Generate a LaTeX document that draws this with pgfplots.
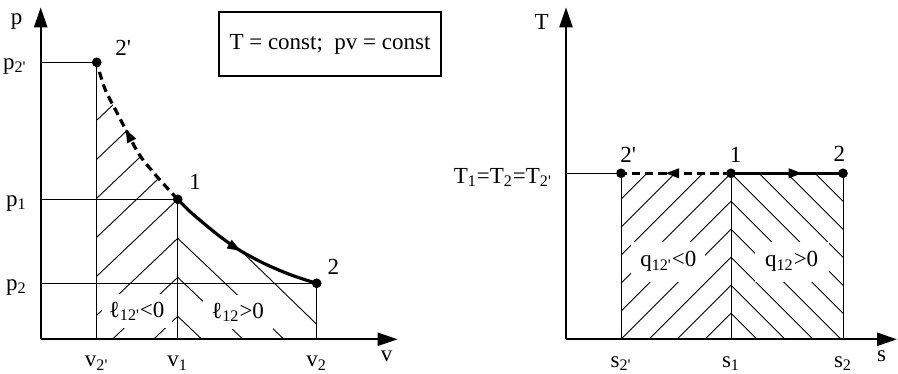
\documentclass[border=0pt]{standalone}
\usepackage{fontspec}
\setmainfont{Liberation Serif}[Ligatures=TeXOff]
\usepackage{pgfplots}
\pgfplotsset{compat=1.18}
\usetikzlibrary{arrows.meta,decorations.markings}

% one pixel of the reference = 0.5pt
\pgfplotsset{
  diagram/.style={
    x=0.5pt, y=0.5pt,
    axis lines=left,
    axis line style={line width=1.2pt},
    x axis line style={-{Triangle[length=10pt,width=6.5pt]}},
    y axis line style={-{Triangle[length=10pt,width=6.5pt]}},
    major tick length=0pt,
    clip=false,
    xmin=0, ymin=0,
    anchor=south west,
    xticklabel style={yshift=-4.5pt},
    yticklabel style={xshift=-3pt, yshift=-2pt},
    unbounded coords=jump,
  },
  thinln/.style={line width=0.5pt},
  hatch/.style={line width=0.45pt},
  process/.style={line width=1.6pt, smooth},
  midarrow/.style={postaction={decorate},
    decoration={markings, mark=at position #1 with
      {\arrow{Triangle[length=7pt,width=4.5pt]}}}},
  dot/.style={only marks, mark=*, mark size=2.2pt},
}
\tikzset{cut/.style={fill=white, inner sep=1pt}}

\begin{document}
\fontsize{11.5}{13.5}\selectfont
\begin{tikzpicture}
\useasboundingbox (0,0) rectangle (449pt,187pt);

% ---------------- p-v diagram ----------------
\begin{axis}[diagram, at={(20.35pt,17.35pt)},
  xmax=357, ymax=332,
  xtick={56,137,276},
  xticklabels={v\textsubscript{2'}, v\textsubscript{1}, v\textsubscript{2}},
  ytick={56,140,277},
  yticklabels={p\textsubscript{2}, p\textsubscript{1}, p\textsubscript{2'}}]

% hatching, "/" left of v1 and "\" right of v1
\addplot[hatch] coordinates {
  (112.8,0)(137,23) (0,nan)
  (71.7,0)(137,62) (0,nan)
  (56,24)(137,101) (0,nan)
  (56,63)(137,140) (0,nan)
  (56,102)(137,179) (0,nan)
  (56,141)(137,218) (0,nan)
  (56,180)(137,257) (0,nan)
  (56,219)(137,296) (0,nan)
  (147,140)(276,15) (0,nan)
  (137,101)(243.3,0) (0,nan)
  (137,62)(202.3,0) (0,nan)
  (137,23)(161.2,0)
};
% blank out the hatching above the isotherm
\addplot[fill=white, draw=none] coordinates {
  (56,277)(64,251)(75,229)(87,206)(99,184)(116,163)(137,140)
  (149,128)(163,116)(179,103)(199,89)(223,76)(246,66)(263,60)(276,56)
  (276,320)(56,320)
};

% state lines
\addplot[thinln] coordinates {
  (0,277)(56,277)(56,0) (0,nan)
  (0,140)(137,140)(137,0) (0,nan)
  (0,56)(276,56)(276,0)
};

% isotherm 1-2' (dashed) and 1-2
\addplot[process, dash pattern=on 4pt off 2.5pt, midarrow=0.55] coordinates {
  (137,140)(116,163)(99,184)(87,206)(75,229)(64,251)(56,277)
};
\addplot[process, midarrow=0.5] coordinates {
  (137,140)(149,128)(163,116)(179,103)(199,89)(223,76)(246,66)(263,60)(276,56)
};
\addplot[dot] coordinates {(56,277)(137,140)(276,56)};

\node at (82.6,291) {2'};
\node at (154.3,157.6) {1};
\node at (292.6,72.6) {2};
\node[cut, minimum width=35pt, minimum height=17pt] at (96,28)
  {ℓ\textsubscript{12'}<0};
\node[cut, minimum width=35pt, minimum height=17pt] at (197,27)
  {ℓ\textsubscript{12}>0};
\node at (-24,318) {p};
\node at (346,-17) {v};
\node[draw, line width=0.6pt, minimum width=111pt, minimum height=32pt]
  at (289.3,295.3) {T = const;~~pv = const};
\end{axis}

% ---------------- T-s diagram ----------------
\begin{axis}[diagram, at={(283pt,17.35pt)},
  xmax=331, ymax=332,
  xtick={55,165,277},
  xticklabels={s\textsubscript{2'}, s\textsubscript{1}, s\textsubscript{2}},
  ytick={166},
  yticklabels={T\textsubscript{1}=T\textsubscript{2}=T\textsubscript{2'}}]

\addplot[hatch] coordinates {
  (139,0)(165,26) (0,nan)
  (111,0)(165,54) (0,nan)
  (83,0)(165,82) (0,nan)
  (55,0)(165,110) (0,nan)
  (55,28)(165,138) (0,nan)
  (55,56)(165,166) (0,nan)
  (55,84)(137,166) (0,nan)
  (55,112)(109,166) (0,nan)
  (55,140)(81,166) (0,nan)
  (165,26)(191,0) (0,nan)
  (165,54)(219,0) (0,nan)
  (165,82)(247,0) (0,nan)
  (165,110)(275,0) (0,nan)
  (165,138)(277,26) (0,nan)
  (165,166)(277,54) (0,nan)
  (193,166)(277,82) (0,nan)
  (221,166)(277,110) (0,nan)
  (249,166)(277,138)
};

\addplot[thinln] coordinates {
  (0,166)(55,166)(55,0) (0,nan)
  (165,166)(165,0) (0,nan)
  (277,166)(277,0)
};

\addplot[process, dash pattern=on 4pt off 2.5pt, midarrow=0.6] coordinates {
  (165,166)(55,166)
};
\addplot[process, midarrow=0.64] coordinates {
  (165,166)(277,166)
};
\addplot[dot] coordinates {(55,166)(165,166)(277,166)};

\node at (62.3,184.3) {2'};
\node at (169.7,184.3) {1};
\node at (273.3,185.3) {2};
\node[cut, minimum width=37pt, minimum height=20pt] at (102.3,77.6)
  {q\textsubscript{12'}<0};
\node[cut, minimum width=37pt, minimum height=20pt] at (225.7,77.6)
  {q\textsubscript{12}>0};
\node at (-24.3,317.6) {T};
\node at (315.7,-16.7) {s};
\end{axis}
\end{tikzpicture}
\end{document}
